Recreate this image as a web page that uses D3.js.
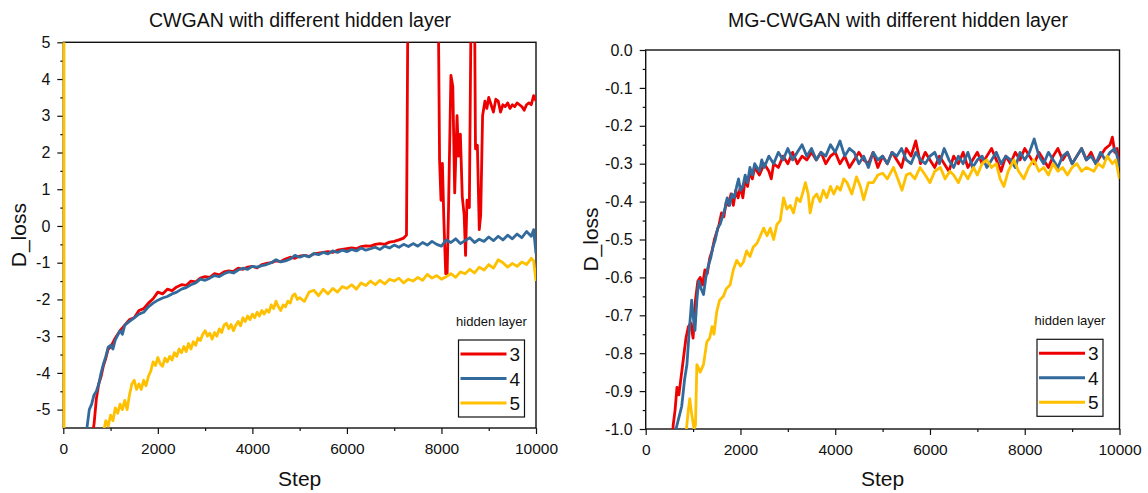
<!DOCTYPE html>
<html lang="en">
<head>
<meta charset="utf-8">
<title>D_loss with different hidden layer</title>
<script src="https://cdn.jsdelivr.net/npm/d3@7"></script>
<style>
  body { margin: 0; background: #fff; }
  svg { display: block; font-family: "Liberation Sans", Arial, sans-serif; }
</style>
</head>
<body>
<div id="chart"></div>
<script>
// legend keys and colours (3, 4, 5 hidden layers)
var layers = ["3", "4", "5"];
var colors = ["#ee0000", "#336a9c", "#ffc000"];

// tick labels
var stepTicks = [0, 2000, 4000, 6000, 8000, 10000];
var leftYTicks = [5, 4, 3, 2, 1, 0, -1, -2, -3, -4, -5];
var rightYTicks = [0, -0.1, -0.2, -0.3, -0.4, -0.5, -0.6, -0.7, -0.8, -0.9, -1.0];

// CWGAN, [step, D_loss]
var cwgan3 = [[0,-30],[100,-22],[200,-16],[300,-12],[400,-9],[500,-7],[600,-5.8],[650,-5.4],[700,-4.7],[750,-4.3],[800,-4.1],[850,-3.8],[900,-3.6],[950,-3.35],[1000,-3.3],[1100,-3.05],[1200,-2.85],[1300,-2.7],[1400,-2.55],[1500,-2.5],[1600,-2.3],[1700,-2.25],[1800,-2.1],[1900,-1.98],[2000,-1.8],[2100,-1.85],[2200,-1.72],[2300,-1.76],[2400,-1.66],[2500,-1.6],[2600,-1.62],[2700,-1.5],[2800,-1.52],[2900,-1.42],[3000,-1.38],[3100,-1.4],[3200,-1.3],[3300,-1.33],[3400,-1.25],[3500,-1.22],[3600,-1.24],[3700,-1.15],[3800,-1.18],[3900,-1.12],[4000,-1.1],[4100,-1.14],[4200,-1.05],[4300,-1.02],[4400,-1.0],[4500,-0.95],[4600,-0.97],[4700,-0.9],[4800,-0.85],[4900,-0.88],[5000,-0.82],[5100,-0.8],[5200,-0.83],[5300,-0.76],[5400,-0.74],[5500,-0.72],[5600,-0.7],[5700,-0.72],[5800,-0.66],[5900,-0.64],[6000,-0.62],[6100,-0.6],[6200,-0.62],[6300,-0.56],[6400,-0.54],[6500,-0.55],[6600,-0.5],[6700,-0.48],[6800,-0.5],[6900,-0.44],[7000,-0.42],[7100,-0.38],[7200,-0.33],[7260,-0.25],[7300,8],[7400,9],[7600,9],[7800,9],[7920,8],[7960,1.8],[7990,0.7],[8020,1.7],[8050,0.2],[8090,-1.3],[8120,-1.3],[8150,0.5],[8200,4.1],[8240,3.8],[8280,0.9],[8330,3.0],[8360,1.9],[8400,2.5],[8440,0.8],[8480,0.3],[8510,-0.8],[8540,0.7],[8590,0.5],[8640,8],[8690,8],[8720,2.1],[8760,2.2],[8800,-0.1],[8830,0.3],[8870,3.0],[8920,3.4],[8960,3.2],[9000,3.5],[9050,3.3],[9100,3.1],[9150,3.45],[9200,3.4],[9250,3.1],[9300,3.3],[9350,3.25],[9400,3.35],[9450,3.2],[9500,3.3],[9550,3.25],[9600,3.35],[9650,3.3],[9700,3.25],[9750,3.15],[9800,3.3],[9850,3.35],[9900,3.3],[9950,3.55],[10000,3.4]];
var cwgan4 = [[0,-30],[100,-20],[200,-14],[300,-10],[400,-7.5],[450,-6.2],[500,-5.5],[550,-5.0],[600,-4.85],[650,-4.6],[700,-4.5],[750,-4.3],[800,-4.0],[850,-3.75],[900,-3.55],[950,-3.3],[1000,-3.25],[1050,-3.35],[1100,-3.1],[1200,-2.85],[1250,-2.95],[1300,-2.7],[1400,-2.6],[1500,-2.5],[1600,-2.4],[1700,-2.35],[1800,-2.2],[1900,-2.1],[2000,-2.02],[2100,-1.96],[2200,-1.92],[2300,-1.85],[2400,-1.8],[2500,-1.72],[2600,-1.68],[2700,-1.6],[2800,-1.55],[2900,-1.45],[3000,-1.48],[3100,-1.42],[3200,-1.35],[3300,-1.38],[3400,-1.3],[3500,-1.25],[3600,-1.28],[3700,-1.2],[3800,-1.15],[3900,-1.18],[4000,-1.1],[4100,-1.12],[4200,-1.08],[4300,-1.05],[4400,-1.0],[4500,-0.92],[4600,-0.98],[4700,-0.95],[4800,-0.9],[4900,-0.8],[5000,-0.85],[5100,-0.8],[5200,-0.84],[5300,-0.75],[5400,-0.78],[5500,-0.72],[5600,-0.76],[5700,-0.68],[5800,-0.72],[5900,-0.66],[6000,-0.7],[6100,-0.64],[6200,-0.68],[6300,-0.6],[6400,-0.66],[6500,-0.62],[6600,-0.58],[6700,-0.64],[6800,-0.55],[6900,-0.6],[7000,-0.52],[7100,-0.58],[7200,-0.5],[7300,-0.56],[7400,-0.48],[7500,-0.55],[7600,-0.45],[7700,-0.52],[7800,-0.42],[7900,-0.5],[8000,-0.55],[8100,-0.38],[8200,-0.45],[8300,-0.35],[8400,-0.48],[8500,-0.4],[8600,-0.32],[8700,-0.45],[8800,-0.36],[8900,-0.42],[9000,-0.3],[9100,-0.4],[9200,-0.28],[9300,-0.38],[9400,-0.25],[9500,-0.35],[9600,-0.22],[9700,-0.32],[9800,-0.15],[9900,-0.28],[9950,-0.1],[10000,-0.75]];
var cwgan5 = [[0,60],[30,-60],[500,-30],[700,-12],[800,-6.5],[850,-5.6],[900,-5.3],[950,-5.45],[1000,-5.15],[1050,-5.3],[1100,-4.95],[1150,-5.1],[1200,-4.85],[1250,-5.0],[1300,-4.75],[1350,-5.0],[1400,-4.6],[1450,-4.3],[1500,-4.2],[1550,-4.45],[1600,-4.3],[1650,-4.45],[1700,-4.2],[1750,-4.35],[1800,-4.1],[1850,-3.95],[1900,-3.7],[1950,-3.8],[2000,-3.58],[2050,-3.75],[2100,-3.82],[2150,-3.6],[2200,-3.7],[2250,-3.55],[2300,-3.65],[2350,-3.45],[2400,-3.55],[2450,-3.35],[2500,-3.45],[2550,-3.28],[2600,-3.42],[2650,-3.2],[2700,-3.35],[2750,-3.15],[2800,-3.25],[2850,-3.05],[2900,-3.12],[2950,-2.95],[3000,-2.85],[3050,-3.0],[3100,-2.92],[3150,-3.08],[3200,-2.9],[3250,-3.0],[3300,-2.8],[3350,-2.9],[3400,-2.7],[3450,-2.65],[3500,-2.8],[3550,-2.68],[3600,-2.85],[3650,-2.7],[3700,-2.6],[3750,-2.72],[3800,-2.5],[3850,-2.6],[3900,-2.45],[3950,-2.55],[4000,-2.4],[4050,-2.5],[4100,-2.35],[4150,-2.45],[4200,-2.3],[4250,-2.4],[4300,-2.28],[4350,-2.35],[4400,-2.15],[4450,-2.25],[4500,-2.05],[4550,-2.2],[4600,-2.3],[4650,-2.15],[4700,-2.2],[4750,-2.05],[4800,-2.1],[4850,-1.9],[4900,-1.85],[4950,-2.0],[5000,-1.95],[5100,-2.05],[5200,-1.8],[5300,-1.75],[5400,-1.9],[5500,-1.72],[5600,-1.85],[5700,-1.7],[5800,-1.8],[5900,-1.65],[6000,-1.7],[6100,-1.6],[6200,-1.72],[6300,-1.55],[6400,-1.62],[6500,-1.5],[6600,-1.6],[6700,-1.48],[6800,-1.58],[6900,-1.45],[7000,-1.5],[7100,-1.42],[7200,-1.55],[7300,-1.45],[7400,-1.5],[7500,-1.4],[7600,-1.48],[7700,-1.32],[7800,-1.42],[7900,-1.35],[8000,-1.45],[8100,-1.38],[8200,-1.3],[8300,-1.4],[8400,-1.25],[8500,-1.3],[8600,-1.18],[8700,-1.28],[8800,-1.12],[8900,-1.2],[9000,-1.05],[9100,-1.15],[9200,-0.92],[9300,-1.0],[9400,-1.12],[9500,-1.02],[9600,-1.1],[9700,-0.98],[9800,-1.05],[9900,-0.88],[9950,-0.95],[10000,-1.5]];

// MG-CWGAN, [step, D_loss]
var mgcwgan3 = [[0,-3],[300,-2],[500,-1.2],[580,-0.99],[620,-0.95],[660,-0.89],[700,-0.91],[750,-0.86],[800,-0.81],[850,-0.76],[900,-0.73],[950,-0.72],[1000,-0.76],[1050,-0.66],[1100,-0.61],[1150,-0.6],[1200,-0.62],[1250,-0.58],[1300,-0.59],[1350,-0.55],[1400,-0.53],[1450,-0.5],[1500,-0.48],[1550,-0.46],[1600,-0.43],[1650,-0.44],[1700,-0.4],[1750,-0.41],[1800,-0.38],[1850,-0.41],[1900,-0.37],[1950,-0.39],[2000,-0.36],[2050,-0.39],[2100,-0.34],[2150,-0.36],[2200,-0.32],[2250,-0.34],[2300,-0.31],[2400,-0.33],[2500,-0.3],[2600,-0.32],[2650,-0.34],[2700,-0.3],[2800,-0.31],[2900,-0.28],[3000,-0.3],[3100,-0.27],[3200,-0.3],[3300,-0.28],[3400,-0.29],[3500,-0.27],[3600,-0.29],[3700,-0.27],[3800,-0.3],[3900,-0.28],[4000,-0.27],[4100,-0.3],[4200,-0.28],[4300,-0.31],[4400,-0.29],[4500,-0.27],[4600,-0.29],[4700,-0.3],[4800,-0.27],[4900,-0.31],[5000,-0.28],[5100,-0.3],[5200,-0.27],[5300,-0.29],[5400,-0.31],[5500,-0.26],[5600,-0.28],[5700,-0.24],[5800,-0.3],[5900,-0.27],[6000,-0.29],[6100,-0.31],[6200,-0.28],[6300,-0.3],[6400,-0.32],[6500,-0.28],[6600,-0.3],[6700,-0.27],[6800,-0.31],[6900,-0.29],[7000,-0.27],[7100,-0.3],[7200,-0.28],[7300,-0.26],[7400,-0.29],[7500,-0.32],[7600,-0.28],[7700,-0.3],[7800,-0.27],[7900,-0.29],[8000,-0.26],[8100,-0.28],[8200,-0.3],[8300,-0.27],[8400,-0.29],[8500,-0.31],[8600,-0.28],[8700,-0.26],[8800,-0.29],[8900,-0.27],[9000,-0.3],[9100,-0.28],[9200,-0.26],[9300,-0.29],[9400,-0.27],[9500,-0.3],[9600,-0.28],[9700,-0.26],[9800,-0.25],[9850,-0.23],[9900,-0.27],[9950,-0.26],[10000,-0.3]];
var mgcwgan4 = [[0,-3],[400,-1.5],[640,-1.0],[700,-0.97],[760,-0.94],[820,-0.87],[870,-0.83],[920,-0.74],[970,-0.66],[1000,-0.7],[1040,-0.74],[1080,-0.66],[1120,-0.61],[1170,-0.63],[1220,-0.645],[1270,-0.6],[1320,-0.57],[1370,-0.55],[1420,-0.52],[1470,-0.5],[1520,-0.47],[1570,-0.46],[1620,-0.44],[1670,-0.42],[1720,-0.39],[1770,-0.41],[1820,-0.38],[1870,-0.39],[1920,-0.36],[1960,-0.34],[2000,-0.37],[2050,-0.36],[2100,-0.33],[2150,-0.35],[2200,-0.31],[2250,-0.33],[2300,-0.3],[2400,-0.32],[2450,-0.29],[2500,-0.31],[2600,-0.28],[2700,-0.3],[2800,-0.27],[2900,-0.29],[3000,-0.26],[3100,-0.29],[3200,-0.27],[3300,-0.25],[3400,-0.28],[3500,-0.26],[3600,-0.29],[3700,-0.27],[3800,-0.28],[3900,-0.25],[4000,-0.27],[4100,-0.24],[4200,-0.28],[4300,-0.26],[4400,-0.27],[4500,-0.3],[4600,-0.28],[4700,-0.31],[4800,-0.27],[4900,-0.29],[5000,-0.28],[5100,-0.3],[5200,-0.27],[5300,-0.28],[5400,-0.26],[5500,-0.29],[5600,-0.3],[5700,-0.27],[5800,-0.29],[5900,-0.3],[6000,-0.28],[6100,-0.27],[6200,-0.3],[6300,-0.26],[6400,-0.29],[6500,-0.31],[6600,-0.28],[6700,-0.3],[6800,-0.27],[6900,-0.31],[7000,-0.29],[7100,-0.28],[7200,-0.31],[7300,-0.29],[7400,-0.27],[7500,-0.3],[7600,-0.28],[7700,-0.29],[7800,-0.31],[7900,-0.27],[8000,-0.29],[8100,-0.27],[8200,-0.235],[8300,-0.28],[8400,-0.3],[8500,-0.27],[8600,-0.29],[8700,-0.31],[8800,-0.28],[8900,-0.27],[9000,-0.3],[9100,-0.28],[9200,-0.26],[9300,-0.29],[9400,-0.28],[9500,-0.3],[9600,-0.27],[9700,-0.29],[9800,-0.27],[9900,-0.26],[9950,-0.28],[10000,-0.31]];
var mgcwgan5 = [[0,-3],[600,-1.5],[860,-1.0],[900,-0.95],[930,-0.92],[970,-0.96],[1020,-1.0],[1050,-0.99],[1080,-0.83],[1150,-0.85],[1220,-0.83],[1290,-0.77],[1350,-0.76],[1400,-0.73],[1440,-0.75],[1500,-0.69],[1560,-0.66],[1640,-0.65],[1700,-0.63],[1780,-0.62],[1850,-0.58],[1920,-0.555],[2000,-0.57],[2060,-0.56],[2130,-0.53],[2200,-0.545],[2270,-0.52],[2350,-0.51],[2420,-0.49],[2490,-0.47],[2560,-0.49],[2630,-0.47],[2700,-0.5],[2770,-0.46],[2840,-0.45],[2910,-0.39],[2980,-0.42],[3050,-0.41],[3120,-0.43],[3190,-0.39],[3260,-0.4],[3330,-0.37],[3370,-0.35],[3430,-0.38],[3470,-0.43],[3540,-0.39],[3610,-0.38],[3680,-0.4],[3750,-0.37],[3820,-0.39],[3900,-0.36],[3970,-0.38],[4040,-0.36],[4110,-0.37],[4180,-0.34],[4250,-0.35],[4350,-0.38],[4450,-0.335],[4530,-0.36],[4600,-0.395],[4700,-0.35],[4800,-0.35],[4900,-0.33],[5000,-0.325],[5100,-0.34],[5230,-0.31],[5320,-0.34],[5410,-0.37],[5500,-0.33],[5580,-0.325],[5680,-0.34],[5790,-0.31],[5900,-0.33],[6000,-0.35],[6100,-0.32],[6220,-0.31],[6320,-0.34],[6420,-0.32],[6500,-0.33],[6600,-0.35],[6700,-0.32],[6800,-0.34],[6920,-0.31],[7000,-0.33],[7100,-0.3],[7200,-0.29],[7300,-0.31],[7400,-0.3],[7480,-0.34],[7560,-0.36],[7650,-0.32],[7770,-0.29],[7870,-0.32],[7980,-0.34],[8080,-0.31],[8190,-0.29],[8300,-0.32],[8400,-0.31],[8500,-0.33],[8600,-0.3],[8700,-0.32],[8800,-0.31],[8900,-0.33],[9000,-0.31],[9100,-0.3],[9200,-0.32],[9300,-0.31],[9460,-0.32],[9550,-0.3],[9650,-0.31],[9740,-0.28],[9850,-0.3],[9920,-0.29],[10000,-0.34]];

var width = 1148, height = 493;

var svg = d3.select("#chart").append("svg")
  .attr("width", width)
  .attr("height", height);

// plain hyphen for negatives, as in the original figure
function hyphen(fmt) {
  var f = d3.format(fmt);
  return function (d) { return f(d).replace("\u2212", "-"); };
}

function drawPanel(p) {
  var x = d3.scaleLinear().domain([0, 10000]).range([p.x0, p.x1]);
  var y = d3.scaleLinear().domain(p.yDomain).range([p.yBot, p.yTop]);
  var g = svg.append("g");

  // clip (a little room on the left so a line at step 0 stays visible)
  g.append("clipPath").attr("id", p.id + "-clip")
    .append("rect")
    .attr("x", p.x0 - 2).attr("y", p.yTop)
    .attr("width", p.x1 - p.x0 + 2).attr("height", p.yBot - p.yTop);

  // minor ticks
  g.append("g")
    .attr("transform", "translate(0," + p.yBot + ")")
    .call(d3.axisBottom(x).tickValues([1000, 3000, 5000, 7000, 9000]).tickSize(3).tickFormat(""))
    .call(function (a) { a.select(".domain").remove(); });
  g.append("g")
    .attr("transform", "translate(" + p.x0 + ",0)")
    .call(d3.axisLeft(y).tickValues(p.yMinor).tickSize(3).tickFormat(""))
    .call(function (a) { a.select(".domain").remove(); });

  // major ticks
  var xa = g.append("g")
    .attr("transform", "translate(0," + p.yBot + ")")
    .call(d3.axisBottom(x).tickValues(stepTicks).tickSize(6).tickPadding(8.5).tickFormat(d3.format("d")));
  var ya = g.append("g")
    .attr("transform", "translate(" + p.x0 + ",0)")
    .call(d3.axisLeft(y).tickValues(p.yTicks).tickSize(6).tickPadding(7).tickFormat(hyphen(p.yFormat)));
  [xa, ya].forEach(function (a) {
    a.select(".domain").remove();
    a.selectAll("text").style("font-size", "16px").attr("fill", "#111");
  });
  xa.selectAll("text").style("font-size", "15.5px");
  g.selectAll(".tick line").attr("stroke", "#111").attr("stroke-width", 1.2);

  // frame
  g.append("rect")
    .attr("x", p.x0).attr("y", p.yTop)
    .attr("width", p.x1 - p.x0).attr("height", p.yBot - p.yTop)
    .attr("fill", "none").attr("stroke", "#111").attr("stroke-width", 1.4);

  // lines
  var line = d3.line().x(function (d) { return x(d[0]); }).y(function (d) { return y(d[1]); });
  var lg = g.append("g").attr("clip-path", "url(#" + p.id + "-clip)");
  p.series.forEach(function (s, i) {
    lg.append("path")
      .datum(s)
      .attr("fill", "none")
      .attr("stroke", colors[i])
      .attr("stroke-width", 2.8)
      .attr("stroke-linejoin", "round")
      .attr("d", line);
  });

  // titles
  g.append("text")
    .attr("x", p.titleX).attr("y", 27)
    .attr("text-anchor", "middle")
    .style("font-size", "19.5px")
    .attr("fill", "#111")
    .text(p.title);
  g.append("text")
    .attr("x", (p.x0 + p.x1) / 2).attr("y", 486)
    .attr("text-anchor", "middle")
    .style("font-size", "21px")
    .attr("fill", "#111")
    .text("Step");
  g.append("text")
    .attr("transform", "translate(" + p.yLabelX + "," + (p.yTop + p.yBot) / 2 + ") rotate(-90)")
    .attr("text-anchor", "middle")
    .style("font-size", "21px")
    .attr("fill", "#111")
    .text("D_loss");

  // legend
  var lx = p.legend[0], ly = p.legend[1];
  g.append("text")
    .attr("x", lx + 33).attr("y", ly - 14)
    .attr("text-anchor", "middle")
    .style("font-size", "13px")
    .attr("fill", "#111")
    .text("hidden layer");
  g.append("rect")
    .attr("x", lx).attr("y", ly)
    .attr("width", 66).attr("height", 77)
    .attr("fill", "#fff").attr("stroke", "#111").attr("stroke-width", 1.2);
  layers.forEach(function (k, i) {
    var yy = ly + 14 + i * 24.5;
    g.append("line")
      .attr("x1", lx + 2).attr("x2", lx + 48)
      .attr("y1", yy).attr("y2", yy)
      .attr("stroke", colors[i]).attr("stroke-width", 3);
    g.append("text")
      .attr("x", lx + 51).attr("y", yy + 7)
      .style("font-size", "19px")
      .attr("fill", "#111")
      .text(k);
  });
}

drawPanel({
  id: "cwgan",
  x0: 63.3, x1: 536, yTop: 42.3, yBot: 428,
  yDomain: [-5.5, 5],
  yTicks: leftYTicks,
  yMinor: [4.5, 3.5, 2.5, 1.5, 0.5, -0.5, -1.5, -2.5, -3.5, -4.5],
  yFormat: "d",
  series: [cwgan3, cwgan4, cwgan5],
  title: "CWGAN with different hidden layer",
  titleX: 300,
  yLabelX: 26,
  legend: [458.5, 340]
});

drawPanel({
  id: "mgcwgan",
  x0: 645.7, x1: 1119.5, yTop: 50, yBot: 429,
  yDomain: [-1, 0],
  yTicks: rightYTicks,
  yMinor: [-0.05, -0.15, -0.25, -0.35, -0.45, -0.55, -0.65, -0.75, -0.85, -0.95],
  yFormat: ".1f",
  series: [mgcwgan3, mgcwgan4, mgcwgan5],
  title: "MG-CWGAN with different hidden layer",
  titleX: 898,
  yLabelX: 598,
  legend: [1037, 339.3]
});
</script>
</body>
</html>
